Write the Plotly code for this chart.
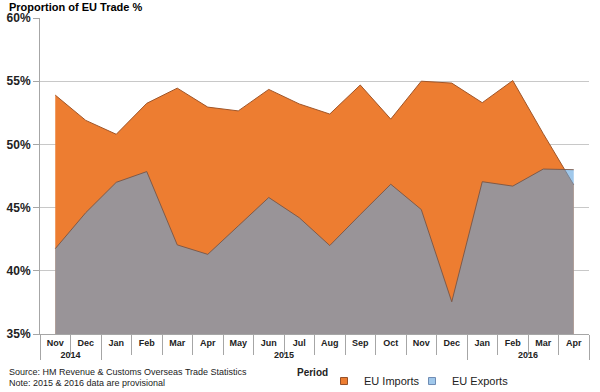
import plotly.graph_objects as go

ZW = "\u200b"  # keeps repeated month names distinct per year in the multicategory axis
years = ["2014", "2014"] + ["2015"] * 12 + ["2016"] * 4
months = ["Nov", "Dec",
          "Jan", "Feb", "Mar", "Apr", "May", "Jun", "Jul", "Aug", "Sep", "Oct", "Nov" + ZW, "Dec" + ZW,
          "Jan" + ZW, "Feb" + ZW, "Mar" + ZW, "Apr" + ZW]

eu_imports = [53.9, 51.9, 50.8, 53.25, 54.45, 52.95, 52.65, 54.35, 53.2, 52.4,
              54.7, 52.0, 55.0, 54.85, 53.3, 55.05, 50.85, 46.8]
eu_exports = [41.75, 44.6, 47.0, 47.85, 42.05, 41.3, 43.55, 45.8, 44.2, 42.0,
              44.45, 46.85, 44.85, 37.55, 47.05, 46.7, 48.05, 48.0]

y_ticks = [35, 40, 45, 50, 55, 60]
y_labels = ["35%", "40%", "45%", "50%", "55%", "60%"]

FONT = "Liberation Sans, Arial, sans-serif"
IMP_FILL = "rgb(237,125,49)"
EXP_FILL = "rgba(97,163,222,0.6)"

fig = go.Figure()
fig.add_trace(go.Scatter(
    x=[years, months], y=eu_imports, name="EU Imports", showlegend=False,
    mode="lines", fill="tozeroy", fillcolor=IMP_FILL,
    line=dict(color="rgb(160,85,40)", width=1),
))
fig.add_trace(go.Scatter(
    x=[years, months], y=eu_exports, name="EU Exports", showlegend=False,
    mode="lines", fill="tozeroy", fillcolor=EXP_FILL,
    line=dict(color="rgba(120,85,70,0.9)", width=1),
))
# legend entries with small square swatches
fig.add_trace(go.Scatter(
    x=[None], y=[None], name="EU Imports", mode="markers", legend="legend",
    marker=dict(symbol="square", size=7, color=IMP_FILL, line=dict(color="rgb(150,80,40)", width=1)),
))
fig.add_trace(go.Scatter(
    x=[None], y=[None], name="EU Exports", mode="markers", legend="legend2",
    marker=dict(symbol="square", size=7, color="rgb(160,200,235)", line=dict(color="rgb(110,140,180)", width=1)),
))

legend_common = dict(orientation="h", xref="container", yref="container",
                     xanchor="left", y=0.028, yanchor="middle",
                     font=dict(size=11, family=FONT, color="#222"), bgcolor="rgba(0,0,0,0)",
                     itemwidth=30, tracegroupgap=0)

fig.update_layout(
    width=600, height=392,
    margin=dict(l=40, r=11, t=18, b=58),
    paper_bgcolor="white", plot_bgcolor="white",
    font=dict(family=FONT, color="black"),
    showlegend=True,
    legend=dict(x=324 / 600, **legend_common),
    legend2=dict(x=412 / 600, **legend_common),
    xaxis=dict(
        type="multicategory", automargin=False,
        range=[-0.5, len(months) - 0.5],
        showline=True, linecolor="#a6a6a6", linewidth=1,
        ticks="outside", tickson="boundaries", ticklen=20, tickcolor="#a6a6a6",
        showdividers=True, dividercolor="#a6a6a6", dividerwidth=1,
        tickfont=dict(size=9, family=FONT, weight="bold", color="#222"),
        showgrid=False, mirror=False,
    ),
    yaxis=dict(
        range=[35, 60], tickvals=y_ticks, ticktext=y_labels, automargin=False,
        showgrid=True, gridcolor="#c8c8c8", gridwidth=1,
        showline=True, linecolor="#a6a6a6", linewidth=1,
        ticks="outside", ticklen=6, tickcolor="#a6a6a6",
        tickfont=dict(size=12, family=FONT, weight="bold", color="#222"),
        zeroline=False,
    ),
    annotations=[
        dict(text="<b>Proportion of EU Trade %</b>", x=-0.06, y=1.034, xref="paper", yref="paper",
             xanchor="left", yanchor="middle", showarrow=False,
             font=dict(size=11, family=FONT, color="black")),
        dict(text="<b>Period</b>", x=0.497, y=-0.123, xref="paper", yref="paper",
             xanchor="center", yanchor="middle", showarrow=False,
             font=dict(size=10, family=FONT, color="#222")),
        dict(text="Source: HM Revenue &amp; Customs Overseas Trade Statistics", x=-0.06, y=-0.12,
             xref="paper", yref="paper", xanchor="left", yanchor="middle", showarrow=False,
             font=dict(size=9, family=FONT, color="#222")),
        dict(text="Note: 2015 &amp; 2016 data are provisional", x=-0.06, y=-0.155,
             xref="paper", yref="paper", xanchor="left", yanchor="middle", showarrow=False,
             font=dict(size=9, family=FONT, color="#222")),
    ],
)

fig.write_html("out.html", config={"displayModeBar": False},
               post_script="document.body.style.margin='0';")
